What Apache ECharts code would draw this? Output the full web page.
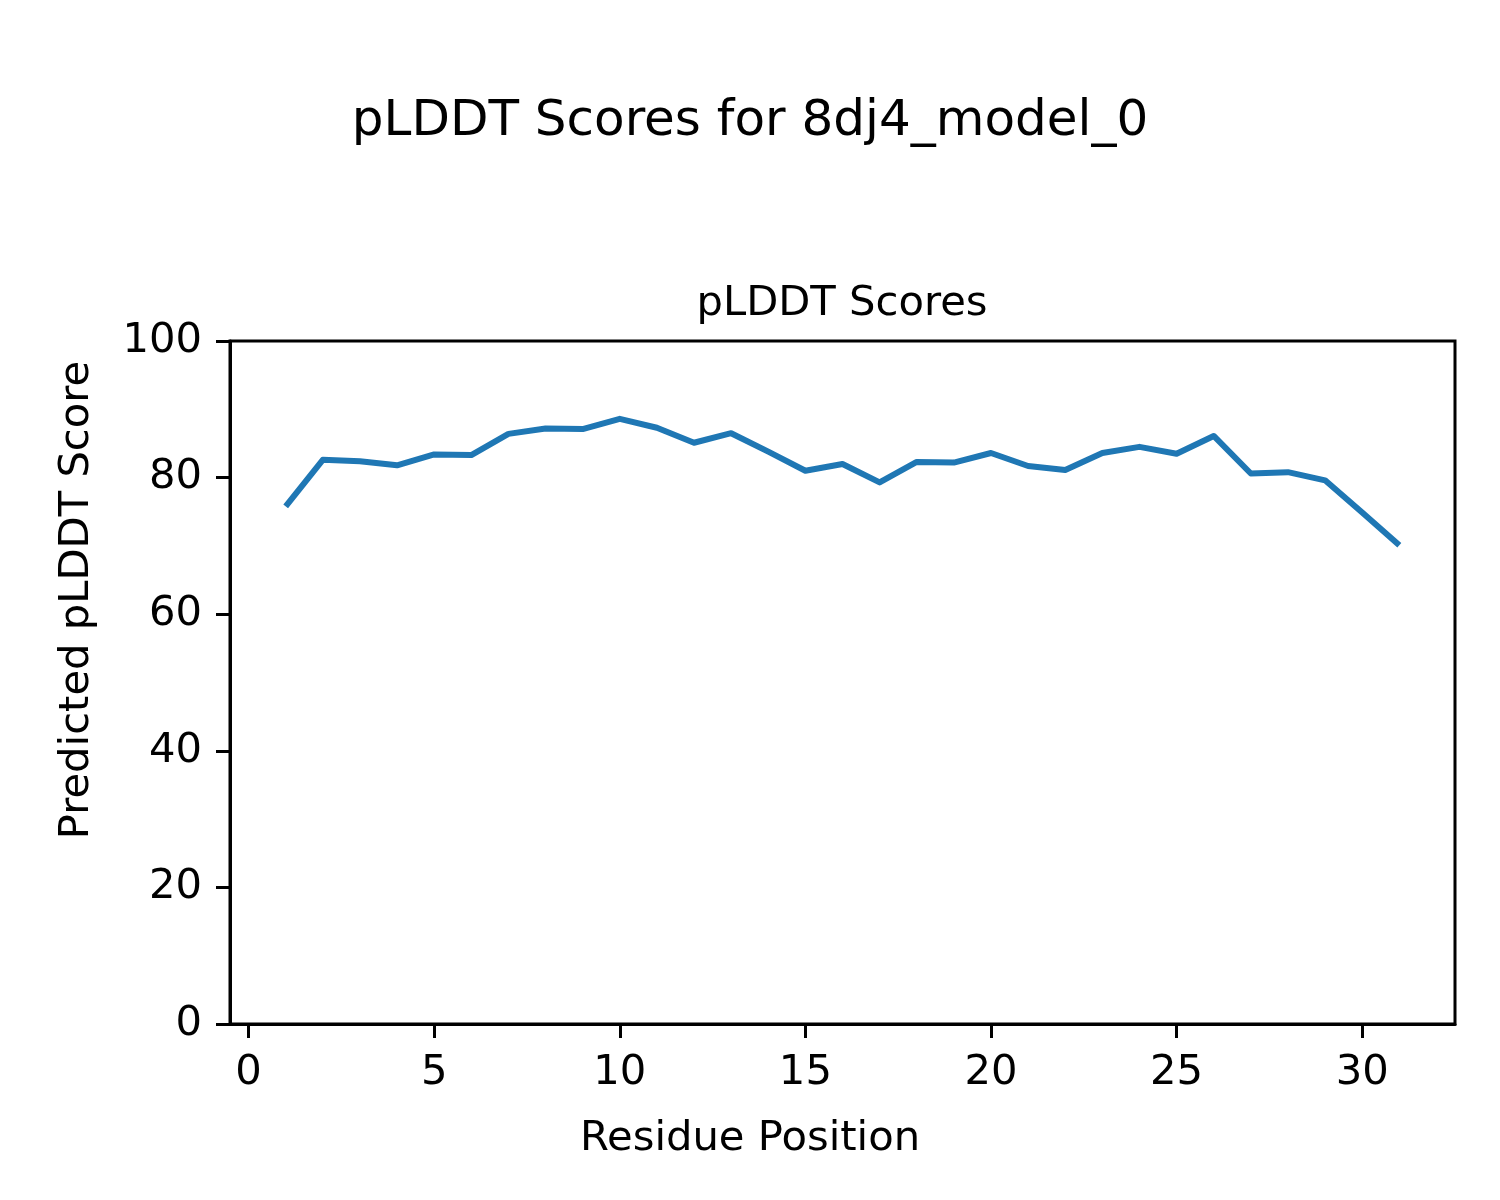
<!DOCTYPE html>
<html>
<head>
<meta charset="utf-8">
<script src="https://cdn.jsdelivr.net/npm/echarts@6/dist/echarts.min.js"></script>
<style>
html,body{margin:0;padding:0;background:#fff;}
#chart{width:1500px;height:1200px;}
</style>
</head>
<body>
<div id="chart"></div>
<script>
const residues = [1,2,3,4,5,6,7,8,9,10,11,12,13,14,15,16,17,18,19,20,21,22,23,24,25,26,27,28,29,30,31];
const plddt = [75.8,82.6,82.4,81.8,83.4,83.3,86.4,87.2,87.1,88.6,87.3,85.1,86.5,83.8,81.0,82.0,79.3,82.3,82.2,83.6,81.7,81.1,83.6,84.5,83.5,86.1,80.6,80.8,79.6,74.9,70.1];
const xTicks = [0,5,10,15,20,25,30];
const yTicks = [0,20,40,60,80,100];

const FONT = '"DejaVu Sans", sans-serif';
const chart = echarts.init(document.getElementById('chart'), null, {renderer:'canvas'});
chart.setOption({
  backgroundColor:'#fff',
  animation:false,
  grid:{left:230,right:45,top:341,bottom:176,show:true,borderColor:'#000',borderWidth:3,backgroundColor:'transparent'},
  xAxis:{
    type:'value',min:-0.5,max:32.5,
    splitLine:{show:false},
    axisLine:{show:true,onZero:false,lineStyle:{color:'#000',width:3}},
    axisTick:{show:true,length:14,lineStyle:{color:'#000',width:3},customValues:xTicks},
    axisLabel:{color:'#000',fontSize:41.7,fontFamily:FONT,margin:28,customValues:xTicks}
  },
  yAxis:{
    type:'value',min:0,max:100,interval:20,
    splitLine:{show:false},
    axisLine:{show:true,onZero:false,lineStyle:{color:'#000',width:3}},
    axisTick:{show:true,length:14,lineStyle:{color:'#000',width:3}},
    axisLabel:{color:'#000',fontSize:41.7,fontFamily:FONT,margin:28,
      formatter:function(v){return yTicks.indexOf(v)>=0?String(v):'';}}
  },
  series:[{
    type:'line',
    data:residues.map((r,i)=>[r,plddt[i]]),
    showSymbol:false,symbol:'none',
    lineStyle:{color:'#1f77b4',width:6,join:'round',cap:'butt'},
    itemStyle:{color:'#1f77b4'}
  }],
  graphic:[
    {type:'text',x:750,y:122,style:{text:'pLDDT Scores for 8dj4_model_0',fontSize:50,fontFamily:FONT,fill:'#000',textAlign:'center',textVerticalAlign:'middle'}},
    {type:'text',x:842,y:304,style:{text:'pLDDT Scores',fontSize:41.7,fontFamily:FONT,fill:'#000',textAlign:'center',textVerticalAlign:'middle'}},
    {type:'text',x:750,y:1139,style:{text:'Residue Position',fontSize:41.7,fontFamily:FONT,fill:'#000',textAlign:'center',textVerticalAlign:'middle'}},
    {type:'text',x:77,y:600,rotation:Math.PI/2,style:{text:'Predicted pLDDT Score',fontSize:41.7,fontFamily:FONT,fill:'#000',textAlign:'center',textVerticalAlign:'middle'}}
  ]
});
</script>
</body>
</html>
